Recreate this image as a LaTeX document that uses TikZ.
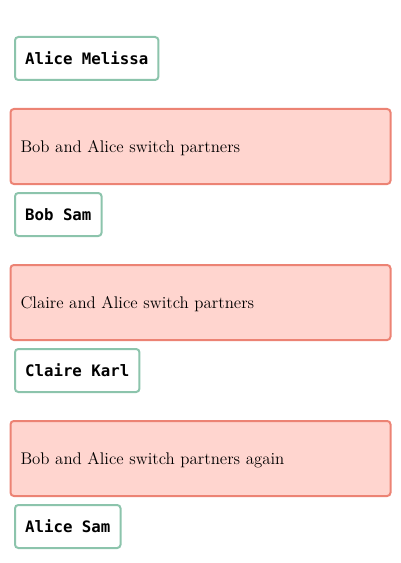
\documentclass[tikz,border=0pt]{standalone}
\usepackage{fontspec}
\setmonofont{DejaVu Sans Mono}
\definecolor{pair_green}{RGB}{140, 196, 172}
\definecolor{event_red}{RGB}{236, 131, 116}
\definecolor{event_fill}{RGB}{255, 213, 207}
\tikzstyle{pn}=[draw=pair_green,fill=white,line width=1.5pt,rounded corners=2.5pt,
  anchor=west,inner xsep=7.6pt,inner ysep=0pt,minimum height=32.25pt,
  font=\fontsize{11.8}{15}\selectfont\ttfamily\bfseries]
\tikzstyle{en}=[draw=event_red,fill=event_fill,line width=1.5pt,rounded corners=2.5pt,
  anchor=west,inner xsep=7.5pt,inner ysep=0pt,text width=270pt,align=left,
  text depth=0pt,minimum height=56.25pt,font=\fontsize{12.65}{15}\selectfont]

\begin{document}
\begin{tikzpicture}[x=0.75pt,y=-0.75pt]
    \useasboundingbox (0,0) rectangle (400,563);
    \node [style=pn] (start) at (14,58.5) {Alice Melissa};
    \node [style=en] (swap1) at (9.5,146.5) {Bob and Alice switch partners};
    \node [style=pn] (pair1) at (14,214.5) {Bob Sam};
    \node [style=en] (swap2) at (9.5,302.5) {Claire and Alice switch partners};
    \node [style=pn] (pair2) at (14,370.5) {Claire Karl};
    \node [style=en] (swap3) at (9.5,458.5) {Bob and Alice switch partners again};
    \node [style=pn] (pair3) at (14,526.5) {Alice Sam};
  \end{tikzpicture}
\end{document}
